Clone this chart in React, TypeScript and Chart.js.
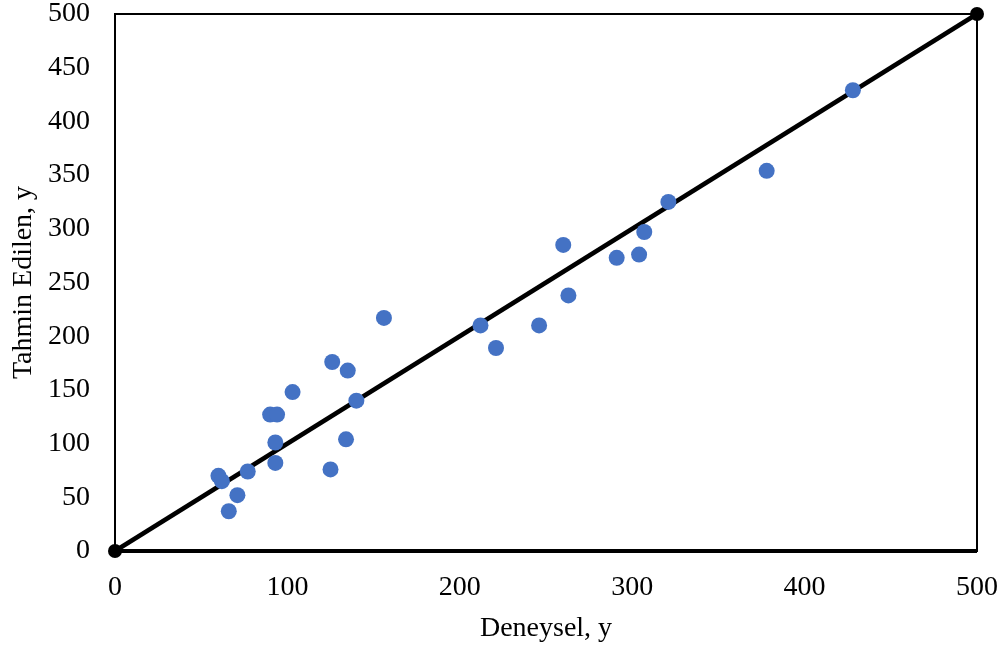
import React, { useEffect, useRef } from "react";
import { Chart, registerables } from "chart.js";

Chart.register(...registerables);

const deneysel = [428, 378, 321, 307, 291, 304, 260, 263, 246, 212, 221, 156, 126, 135, 103, 140, 90, 94, 93, 134, 93, 125, 77, 60, 62, 71, 66];
const tahmin = [429, 354, 325, 297, 273, 276, 285, 238, 210, 210, 189, 217, 176, 168, 148, 140, 127, 127, 101, 104, 82, 76, 74, 70, 65, 52, 37];
const lineX = [0, 500];
const lineY = [0, 500];
const xTitle = "Deneysel, y";
const yTitle = "Tahmin Edilen, y";

const FONT = "'Liberation Serif', 'Times New Roman', serif";
const FS = 28;

export default function App() {
  const ref = useRef<HTMLCanvasElement | null>(null);
  useEffect(() => {
    document.body.style.margin = "0";
    const ctx = ref.current!;
    const borderPlugin = {
      id: "frame",
      beforeDatasetsDraw(chart: any) {
        const { ctx, chartArea: a } = chart;
        ctx.save();
        ctx.strokeStyle = "#000";
        ctx.lineWidth = 2;
        ctx.strokeRect(a.left, a.top, a.right - a.left, a.bottom - a.top);
        ctx.lineWidth = 4;
        ctx.beginPath();
        ctx.moveTo(a.left, a.bottom);
        ctx.lineTo(a.right, a.bottom);
        ctx.stroke();
        ctx.restore();
      },
    };
    const chart = new Chart(ctx, {
      type: "scatter",
      data: {
        datasets: [
          {
            label: "Tahmin",
            data: deneysel.map((x, i) => ({ x, y: tahmin[i] })),
            backgroundColor: "#4472C4",
            borderColor: "#4472C4",
            pointRadius: 8,
            pointBorderWidth: 0,
            order: 0,
          },
          {
            label: "Doğru",
            type: "line",
            data: lineX.map((x, i) => ({ x, y: lineY[i] })),
            borderColor: "#000",
            backgroundColor: "#000",
            borderWidth: 4.5,
            pointRadius: 7,
            pointBorderWidth: 0,
            clip: false,
            order: 1,
          } as any,
        ],
      },
      options: {
        animation: false,
        responsive: false,
        maintainAspectRatio: false,
        layout: { padding: { top: 14, right: 31, left: 0, bottom: 0 } },
        plugins: { legend: { display: false }, tooltip: { enabled: false } },
        scales: {
          x: {
            type: "linear",
            min: 0,
            max: 500,
            grid: { display: false, drawTicks: false },
            border: { display: false },
            ticks: {
              stepSize: 100,
              color: "#000",
              padding: 20,
              maxRotation: 0,
              font: { family: FONT, size: FS },
            },
            title: {
              display: true,
              text: xTitle,
              color: "#000",
              font: { family: FONT, size: FS },
              padding: { top: 0, bottom: 8 },
            },
            afterFit(scale: any) {
              scale.height = 102;
              scale.paddingLeft = 0;
              scale.paddingRight = 0;
            },
          },
          y: {
            type: "linear",
            min: 0,
            max: 500,
            grid: { display: false, drawTicks: false },
            border: { display: false },
            ticks: {
              stepSize: 50,
              color: "#000",
              padding: 25,
              font: { family: FONT, size: FS },
            },
            title: {
              display: true,
              text: yTitle,
              color: "#000",
              font: { family: FONT, size: FS },
              padding: { top: 7, bottom: 0 },
            },
            afterFit(scale: any) {
              scale.width = 115;
              scale.paddingTop = 0;
              scale.paddingBottom = 0;
            },
          },
        },
      },
      plugins: [borderPlugin],
    });
    return () => chart.destroy();
  }, []);
  return (
    <div style={{ width: 1008, height: 653, background: "#fff" }}>
      <canvas ref={ref} width={1008} height={653} style={{ display: "block" }} />
    </div>
  );
}
